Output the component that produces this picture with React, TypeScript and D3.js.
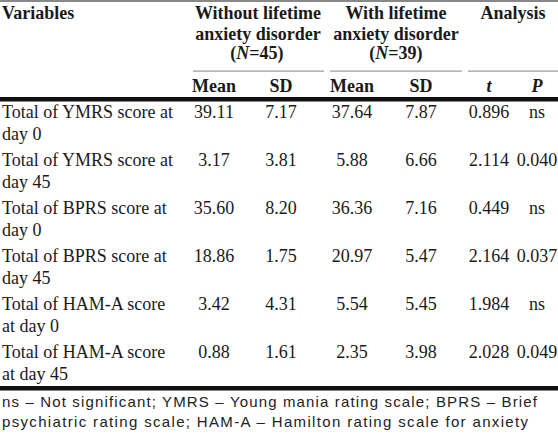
import React from "react";
import * as d3 from "d3";

const variables = [
  ["Total of YMRS score at", "day 0"],
  ["Total of YMRS score at", "day 45"],
  ["Total of BPRS score at", "day 0"],
  ["Total of BPRS score at", "day 45"],
  ["Total of HAM-A score", "at day 0"],
  ["Total of HAM-A score", "at day 45"],
];
const meanWithout = ["39.11", "3.17", "35.60", "18.86", "3.42", "0.88"];
const sdWithout = ["7.17", "3.81", "8.20", "1.75", "4.31", "1.61"];
const meanWith = ["37.64", "5.88", "36.36", "20.97", "5.54", "2.35"];
const sdWith = ["7.87", "6.66", "7.16", "5.47", "5.45", "3.98"];
const tValues = ["0.896", "2.114", "0.449", "2.164", "1.984", "2.028"];
const pValues = ["ns", "0.040", "ns", "0.037", "ns", "0.049"];
const footnote = [
  "ns – Not significant; YMRS – Young mania rating scale; BPRS – Brief",
  "psychiatric rating scale; HAM-A – Hamilton rating scale for anxiety",
];

const W = 558;
const H = 437;
const serif = "'Liberation Serif', 'Times New Roman', serif";
const sans = "'Liberation Sans', Arial, sans-serif";

export default function App() {
  const y = d3.scaleLinear().domain([0, variables.length - 1]).range([118, 358]);
  const colX = { m1: 214, s1: 281, m2: 352, s2: 421, t: 489, p: 537 };
  const cols: [string[], number][] = [
    [meanWithout, colX.m1],
    [sdWithout, colX.s1],
    [meanWith, colX.m2],
    [sdWith, colX.s2],
    [tValues, colX.t],
    [pValues, colX.p],
  ];
  const txt = "#1a1a1a";
  return (
    <svg width={W} height={H} style={{ position: "absolute", left: 0, top: 0 }}>
      <rect width={W} height={H} fill="#fff" />
      <rect x={0} y={0} width={W} height={2} fill="#888" />
      <g fontFamily={serif} fontSize={18} fontWeight="bold" fill={txt}>
        <text x={2} y={19}>Variables</text>
        <text x={258} y={19} textAnchor="middle">Without lifetime</text>
        <text x={258} y={40} textAnchor="middle">anxiety disorder</text>
        <text x={257} y={59} textAnchor="middle">
          (<tspan fontStyle="italic">N</tspan>=45)
        </text>
        <text x={396} y={19} textAnchor="middle">With lifetime</text>
        <text x={396} y={40} textAnchor="middle">anxiety disorder</text>
        <text x={396} y={59} textAnchor="middle">
          (<tspan fontStyle="italic">N</tspan>=39)
        </text>
        <text x={513} y={19} textAnchor="middle">Analysis</text>
        <text x={colX.m1} y={92} textAnchor="middle">Mean</text>
        <text x={colX.s1} y={92} textAnchor="middle">SD</text>
        <text x={colX.m2} y={92} textAnchor="middle">Mean</text>
        <text x={colX.s2} y={92} textAnchor="middle">SD</text>
        <text x={colX.t} y={92} textAnchor="middle" fontStyle="italic">t</text>
        <text x={colX.p} y={92} textAnchor="middle" fontStyle="italic">P</text>
      </g>
      <g fill="#999">
        <rect x={193} y={70.5} width={131} height={1.2} />
        <rect x={330} y={70.5} width={132} height={1.2} />
        <rect x={468} y={70.5} width={90} height={1.2} />
      </g>
      <rect x={0} y={97} width={W} height={4.5} fill="#111" />
      <g fontFamily={serif} fontSize={18} fill={txt}>
        {variables.map((v, i) => (
          <g key={i}>
            <text x={2} y={y(i)}>{v[0]}</text>
            <text x={2} y={y(i) + 22}>{v[1]}</text>
          </g>
        ))}
        {cols.map(([vals, cx], ci) =>
          vals.map((v, i) => (
            <text key={ci + "-" + i} x={cx} y={y(i)} textAnchor="middle">{v}</text>
          ))
        )}
      </g>
      <rect x={0} y={386} width={W} height={4.5} fill="#111" />
      <g fontFamily={sans} fontSize={15} fill="#222">
        <text x={2} y={407} textLength={535} lengthAdjust="spacing">{footnote[0]}</text>
        <text x={2} y={427} textLength={526} lengthAdjust="spacing">{footnote[1]}</text>
      </g>
    </svg>
  );
}
